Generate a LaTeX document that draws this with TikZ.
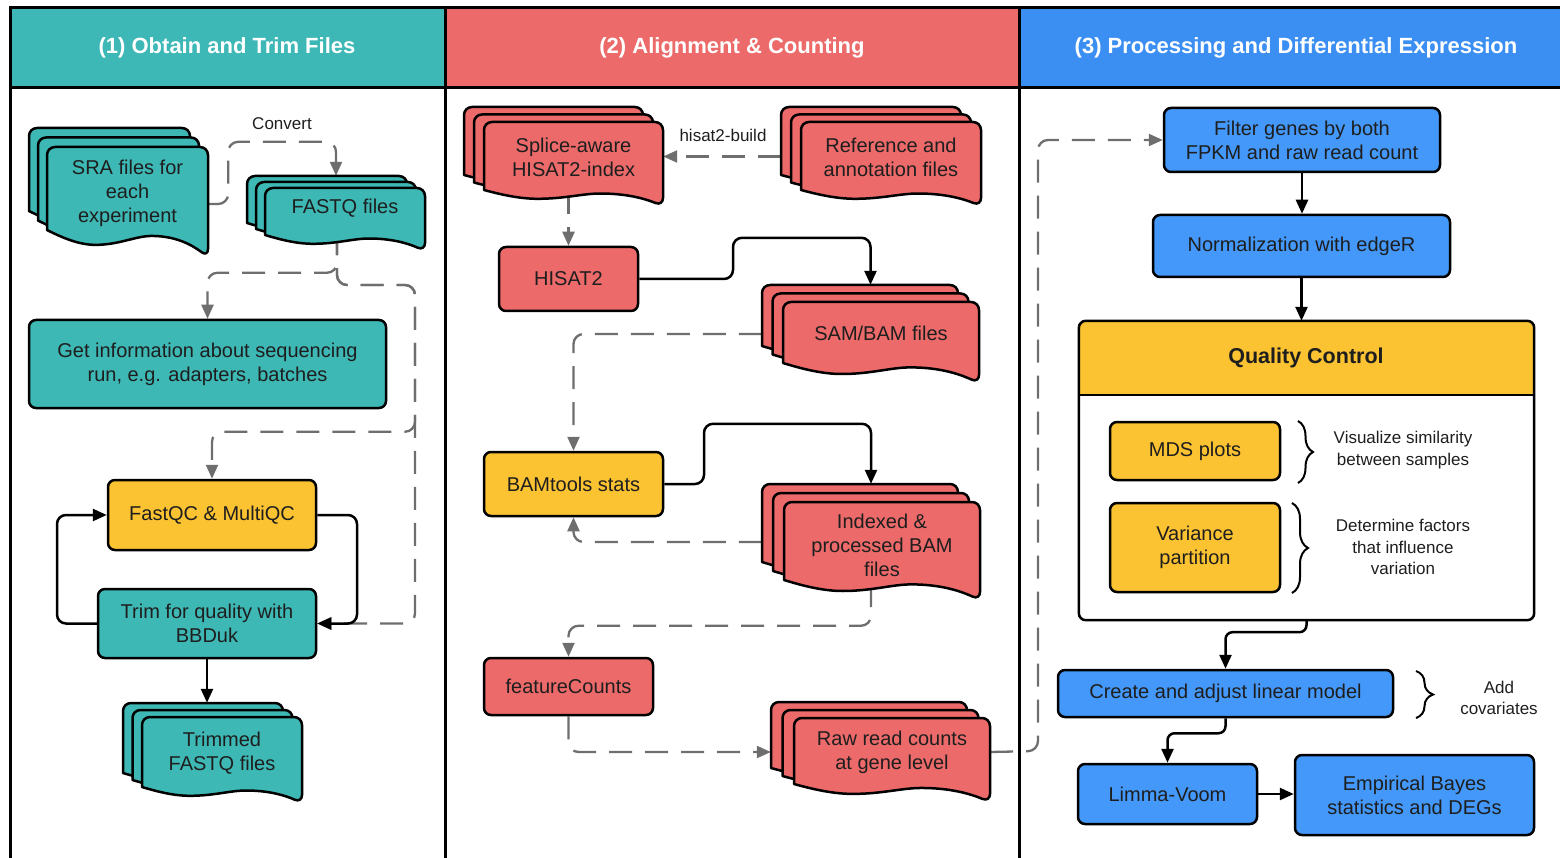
\documentclass[tikz,border=0pt]{standalone}
\usepackage{fontspec}
\setmainfont{Liberation Sans}
\usetikzlibrary{arrows.meta,decorations.pathreplacing,calc}
\definecolor{tealc}{HTML}{3DB8B5}
\definecolor{redc}{HTML}{EC6A6A}
\definecolor{bluec}{HTML}{4398F9}
\definecolor{yellowc}{HTML}{FBC232}
\definecolor{greyc}{HTML}{6E6E6E}
\definecolor{txt}{HTML}{1E1E1E}
\definecolor{hteal}{HTML}{3DB8B6}
\definecolor{hred}{HTML}{EC6A6A}
\definecolor{hblue}{HTML}{3B8FF3}
\pgfdeclarelayer{bg}\pgfsetlayers{bg,main}
\newcommand\mainfs{\fontsize{20}{24}\selectfont}
\newcommand\notefs{\fontsize{17}{21.5}\selectfont}
\newcommand\hdrfs{\fontsize{22}{26}\selectfont\bfseries}
\tikzset{
 box/.style={draw=black, line width=2.5pt, rounded corners=7pt, align=center, font=\mainfs, text=txt, inner sep=2pt},
 docline/.style={draw=black, line width=2.5pt, line join=round},
 docbody/.style={inner sep=0pt, align=center, font=\mainfs, text=txt},
 dline/.style={draw=greyc, line width=2.3pt, dash pattern=on 23pt off 13pt, rounded corners=10pt, -{Triangle[length=14pt,width=12pt]}},
 sline/.style={draw=black, line width=2.5pt, rounded corners=9pt, -{Triangle[length=14pt,width=12pt]}},
 note/.style={font=\notefs, text=txt, align=center},
 hdr/.style={font=\hdrfs, text=white},
 brc/.style={draw=black, line width=2pt, decorate, decoration={brace, amplitude=#1}},
}
\def\docdy{0}
% one document sheet: x, y (top-left), w, left height, right height
\newcommand\docpath[5]{%
  \pgfmathsetmacro\dRr{#5-#4}%
  \filldraw[docline, fill=\docfill]
   (#1,{#2+#4}) [rounded corners=8pt] -- (#1,#2) -- ({#1+#3},#2) -- ({#1+#3},{#2+#5}) [sharp corners]
   .. controls ({#1+0.9*#3},{#2+#4+0.55*\dRr}) and ({#1+0.8*#3},{#2+#4+0.22*\dRr}) .. ({#1+0.65*#3},{#2+#4+0.22*\dRr})
   .. controls ({#1+0.55*#3},{#2+#4+0.22*\dRr}) and ({#1+0.45*#3},{#2+#4+0.55*\dRr}) .. ({#1+0.3*#3},{#2+#4+0.55*\dRr})
   .. controls ({#1+0.2*#3},{#2+#4+0.55*\dRr}) and ({#1+0.1*#3},{#2+#4+0.3*\dRr}) .. (#1,{#2+#4}) -- cycle;
}
% stack of three sheets: name, x, y, w, hl, hr, dx, dy, text
\newcommand\docstack[9]{%
  \foreach \k in {2,1,0}{%
    \pgfmathsetmacro\ox{#2-\k*#7}%
    \pgfmathsetmacro\oy{#3-\k*#8}%
    \docpath{\ox}{\oy}{#4}{#5}{#6}%
  }%
  \node[docbody, minimum width=#4, minimum height=#5] (#1) at ({#2+#4/2},{#3+#5/2+\docdy}) {#9};
  \node[inner sep=0pt, minimum width={#4+2*#7}, minimum height={#6+2*#8}] (#1s) at ({#2-#7+#4/2},{#3-#8+#6/2}) {};
}
\begin{document}
\begin{tikzpicture}[x=1pt,y=-1pt]
\useasboundingbox (0,0) rectangle (1560,858);
% headers and frame
\fill[hteal] (10,8) rectangle (445,88);
\fill[hred] (445,8) rectangle (1019,88);
\fill[hblue] (1019,8) rectangle (1566,88);
\draw[line width=3pt] (1566,8) -- (10,8) -- (10,866);
\draw[line width=3pt] (10,88) -- (1566,88);
\draw[line width=3pt] (445,8) -- (445,866);
\draw[line width=3pt] (1019,8) -- (1019,866);
\node[hdr] (h1) at (227,48) {(1) Obtain and Trim Files};
\node[hdr] (h2) at (732,48) {(2) Alignment \& Counting};
\node[hdr] (h3) at (1296,48) {(3) Processing and Differential Expression};

% ---------- lane 1
\def\docfill{tealc}
\def\docdy{5}
\docstack{sra}{47}{147}{161}{83}{110}{9}{9.5}{SRA files for\\each\\experiment}
\def\docdy{-3}
\docstack{fastq}{265}{188}{160}{47}{63}{9}{6}{FASTQ files}
\def\docdy{1}
\docstack{trimmed}{142}{717}{160}{70}{86}{9.5}{7}{Trimmed\\FASTQ files}
\node[box, fill=tealc, minimum width=357, minimum height=88] (getinfo) at (207.5,364) {Get information about sequencing\\run, e.g. adapters, batches};
\node[box, fill=yellowc, minimum width=208, minimum height=70] (fastqc) at (212,515) {FastQC \& MultiQC};
\node[box, fill=tealc, minimum width=218, minimum height=69] (trim) at (207,623.5) {Trim for quality with\\BBDuk};
\node[note] (convert) at (282,124) {Convert};

% ---------- lane 2
\def\docfill{redc}
\def\docdy{1}
\docstack{splice}{484}{122}{179}{68}{84}{10}{7.5}{Splice-aware\\HISAT2-index}
\docstack{ref}{801}{122}{180}{68}{84}{10}{7.5}{Reference and\\annotation files}
\docstack{sam}{783}{302}{196}{61}{81}{10.5}{8.5}{SAM/BAM files}
\def\docdy{4}
\docstack{indexed}{784}{502}{196}{78}{98}{11}{9}{Indexed \&\\processed BAM\\files}
\def\docdy{1}
\docstack{raw}{794}{718}{196}{66}{84}{11.5}{8}{Raw read counts\\at gene level}
\node[box, fill=redc, minimum width=139, minimum height=64] (hisat2) at (568.5,279) {HISAT2};
\node[box, fill=yellowc, minimum width=179, minimum height=64] (bamtools) at (573.5,484) {BAMtools stats};
\node[box, fill=redc, minimum width=169, minimum height=57] (fc) at (568.5,686.5) {featureCounts};
\node[note] (hb) at (723,135) {hisat2-build};

% ---------- lane 3
\node[box, fill=bluec, minimum width=276, minimum height=64] (filter) at (1302,140) {Filter genes by both\\FPKM and raw read count};
\node[box, fill=bluec, minimum width=297, minimum height=62] (norm) at (1301.5,246) {Normalization with edgeR};
\node[minimum width=455, minimum height=299, inner sep=0pt, fill=white, rounded corners=7pt] (qc) at (1306.5,470.5) {};
\begin{scope}
\clip[rounded corners=7pt] (qc.north west) rectangle (qc.south east);
\fill[yellowc] (qc.north west) rectangle (qc.east |- 0,395);
\end{scope}
\draw[line width=2.5pt, rounded corners=7pt] (qc.north west) rectangle (qc.south east);
\draw[line width=2.5pt] (qc.west |- 0,395) -- (qc.east |- 0,395);
\node[font=\fontsize{21.5}{25}\selectfont\bfseries, text=txt] (qct) at (1306,358) {Quality Control};
\node[box, fill=yellowc, minimum width=170, minimum height=58] (mds) at (1195,451) {MDS plots};
\node[box, fill=yellowc, minimum width=170, minimum height=89] (var) at (1195,547.5) {Variance\\partition};
\node[note] (vis) at (1403,450) {Visualize similarity\\between samples};
\node[note] (det) at (1403,547) {Determine factors\\that influence\\variation};
\draw[brc=15pt] (1298,421) -- (1298,483);
\draw[brc=16pt] (1292,503) -- (1292,593);
\node[box, fill=bluec, minimum width=335, minimum height=47] (create) at (1225.5,693.5) {Create and adjust linear model};
\node[note] (add) at (1499,698) {Add\\covariates};
\draw[brc=17pt] (1416,671) -- (1416,718);
\node[box, fill=bluec, minimum width=179, minimum height=60] (limma) at (1167.5,794) {Limma-Voom};
\node[box, fill=bluec, minimum width=239, minimum height=80] (emp) at (1414.5,795) {Empirical Bayes\\statistics and DEGs};

% ---------- dashed connectors (behind shapes)
\begin{pgfonlayer}{bg}
\draw[dline] ([yshift=-10.5pt]sra.east) -- ++(20,0) |- ($(fastqs.north)+(0,-34)$) -- (fastqs.north);
\draw[dline] ([xshift=-8pt]fastq.south) |- ($(getinfo.north)+(0,-46)$) -- (getinfo.north);
\draw[dline] ([xshift=-8pt]fastq.south) |- (415,285) |- ($(fastqc.north)+(0,-47)$) -- (fastqc.north);
\draw[dline] ([xshift=-8pt]fastq.south) |- (415,285) |- (trim.east);
\draw[dline] (refs.west) -- (refs.west -| splice.east);
\draw[dline] (hisat2.north |- splice.south) -- (hisat2.north);
\draw[dline] (sams.west) -| (bamtools.north);
\draw[dline] (indexeds.west) -| (bamtools.south);
\draw[dline] (indexeds.north |- indexed.south) |- ($(fc.north)+(0,-31)$) -- (fc.north);
\draw[dline] (fc.south) |- (raws.west);
\draw[dline] (raw.east) -- (1038,751) |- (filter.west);
\end{pgfonlayer}

% ---------- solid connectors
\draw[sline] (trim.west) -| (57,515) -- (fastqc.west);
\draw[sline] (fastqc.east) -- (357,515) |- (trim.east);
\draw[sline] (trim.south) -- (trim.south |- trimmeds.north);
\draw[sline] (hisat2.east) -- (733,279) |- ($(sams.north)+(0,-47)$) -- (sams.north);
\draw[sline] (bamtools.east) -- (704,484) |- ($(indexeds.north)+(0,-60)$) -- (indexeds.north);
\draw[sline] (filter.south) -- (filter.south |- norm.north);
\draw[sline] (norm.south) -- (norm.south |- qc.north);
\draw[sline, rounded corners=7pt] (qc.south) -- ++(0,12) -| (create.north);
\draw[sline, rounded corners=7pt] (create.south) -- ++(0,15) -| (limma.north);
\draw[sline] (limma.east) -- (limma.east -| emp.west);
\end{tikzpicture}
\end{document}
